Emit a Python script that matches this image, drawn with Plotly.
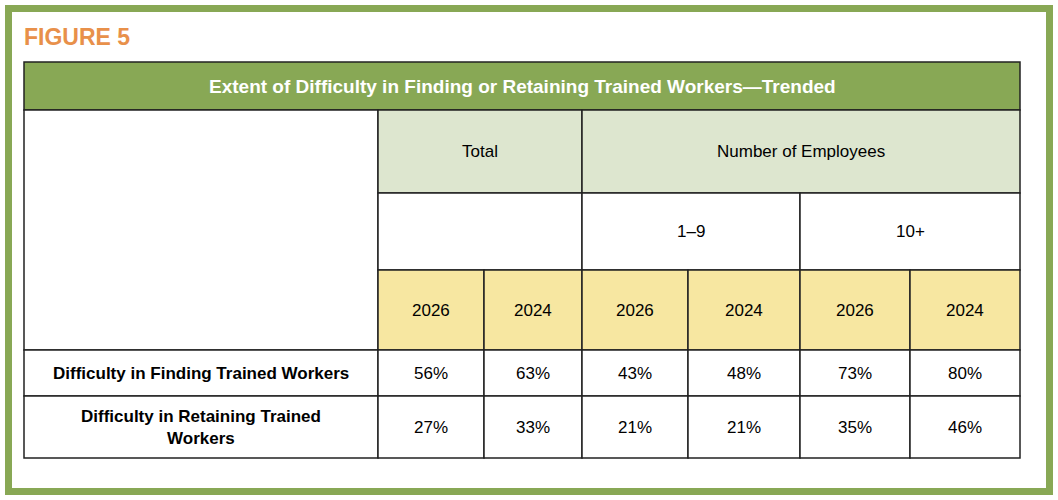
import plotly.graph_objects as go

W, H = 1058, 500
title = "Extent of Difficulty in Finding or Retaining Trained Workers\u2014Trended"
groups = ["Total", "Number of Employees"]
subgroups = ["1\u20139", "10+"]
years = ["2026", "2024", "2026", "2024", "2026", "2024"]
row_labels = ["Difficulty in Finding Trained Workers",
              "Difficulty in Retaining Trained<br>Workers"]
finding = ["56%", "63%", "43%", "48%", "73%", "80%"]
retaining = ["27%", "33%", "21%", "21%", "35%", "46%"]

GREEN = "#88a855"
LIGHT = "#dde6cf"
YELLOW = "#f7e7a1"
ORANGE = "#e8904a"
FONT = "Liberation Sans"

cols = [24, 378, 484, 582, 688, 800, 910, 1020]
rows = [62, 110, 193, 270, 350, 396, 458]

fig = go.Figure()
shapes, ann = [], []

def cell(x0, x1, y0, y1, fill="white", text=None, size=17, color="black", bold=False):
    shapes.append(dict(type="rect", x0=x0, x1=x1, y0=y0, y1=y1, fillcolor=fill,
                       line=dict(color="#222", width=1.5), layer="below"))
    if text:
        t = f"<b>{text}</b>" if bold else text
        ann.append(dict(x=(x0 + x1) / 2, y=(y0 + y1) / 2, text=t, showarrow=False,
                        font=dict(family=FONT, size=size, color=color)))

# outer frame
shapes.append(dict(type="rect", x0=8.5, x1=W - 8.5, y0=8.5, y1=H - 8.5,
                   line=dict(color=GREEN, width=7), layer="below"))
ann.append(dict(x=22, y=37, text="<b>FIGURE 5</b>", xanchor="left", showarrow=False,
                font=dict(family=FONT, size=23, color=ORANGE)))

cell(cols[0], cols[-1], rows[0], rows[1], GREEN, title, 19, "white", True)
cell(cols[0], cols[1], rows[1], rows[4])
cell(cols[1], cols[3], rows[1], rows[2], LIGHT, groups[0])
cell(cols[3], cols[7], rows[1], rows[2], LIGHT, groups[1])
cell(cols[1], cols[3], rows[2], rows[3])
cell(cols[3], cols[5], rows[2], rows[3], "white", subgroups[0])
cell(cols[5], cols[7], rows[2], rows[3], "white", subgroups[1])
for i, y in enumerate(years):
    cell(cols[i + 1], cols[i + 2], rows[3], rows[4], YELLOW, y)
for r, (lab, vals) in enumerate(zip(row_labels, [finding, retaining])):
    y0, y1 = rows[4 + r], rows[5 + r]
    cell(cols[0], cols[1], y0, y1, "white", lab, 17, bold=True)
    for i, v in enumerate(vals):
        cell(cols[i + 1], cols[i + 2], y0, y1, "white", v)

fig.update_layout(width=W, height=H, margin=dict(l=0, r=0, t=0, b=0),
                  paper_bgcolor="white", plot_bgcolor="white",
                  shapes=shapes, annotations=ann, showlegend=False,
                  xaxis=dict(range=[0, W], visible=False, fixedrange=True),
                  yaxis=dict(range=[H, 0], visible=False, fixedrange=True))
fig.write_html("out.html", config={"displayModeBar": False})

# drop the default page margin so the figure sits at the window origin
with open("out.html", encoding="utf-8") as f:
    page = f.read()
page = page.replace("<head>", "<head><style>body{margin:0;overflow:hidden}</style>", 1)
with open("out.html", "w", encoding="utf-8") as f:
    f.write(page)
